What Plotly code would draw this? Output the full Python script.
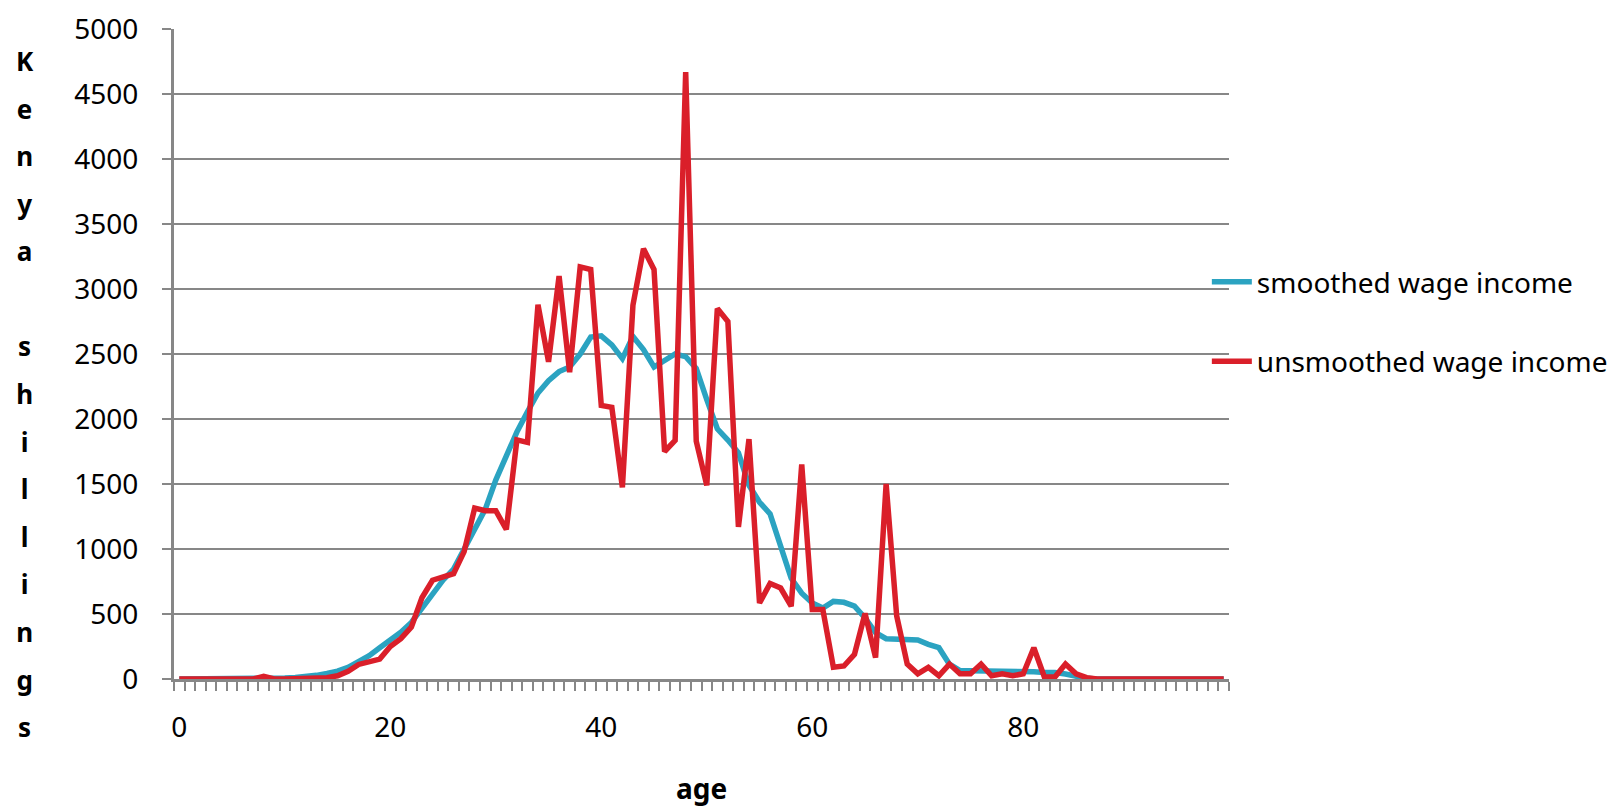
import plotly.graph_objects as go

ages = list(range(100))

smoothed = [
    0, 0, 0, 0, 0, 0, 0, 0, 0, 3,
    8, 12, 18, 28, 42, 60, 90, 130, 180, 240,
    300, 360, 435, 540, 660, 760, 845, 1000, 1135, 1305,
    1530, 1715, 1900, 2055, 2200, 2295, 2365, 2400, 2500, 2630,
    2640, 2570, 2465, 2635, 2535, 2400, 2455, 2500, 2480, 2390,
    2150, 1925, 1838, 1740, 1490, 1360, 1270, 1030, 775, 660,
    585, 546, 597, 590, 560, 470, 356, 310, 310, 310,
    300, 267, 241, 114, 64, 64, 64, 64, 64, 64,
    56, 56, 50, 50, 38, 18, 5, 0, 0, 0,
    0, 0, 0, 0, 0, 0, 0, 0, 0, 0,
]

unsmoothed = [
    0, 0, 0, 0, 0, 0, 0, 0, 20, 0,
    0, 0, 0, 5, 10, 25, 60, 112, 136, 153,
    250, 310, 400, 625, 760, 780, 810, 980, 1315, 1295,
    1295, 1150, 1840, 1820, 2880, 2440, 3100, 2360, 3170, 3150,
    2105, 2090, 1475, 2875, 3310, 3150, 1750, 1835, 4670, 1830,
    1490, 2850, 2750, 1170, 1845, 585, 735, 700, 560, 1650,
    535, 535, 90, 100, 190, 505, 165, 1500, 485, 115,
    40, 90, 25, 115, 40, 40, 115, 25, 40, 25,
    40, 240, 15, 15, 115, 40, 10, 0, 0, 0,
    0, 0, 0, 0, 0, 0, 0, 0, 0, 0,
]

x_tick_vals = [0, 20, 40, 60, 80]
x_tick_text = ["0", "20", "40", "60", "80"]
y_tick_vals = [0, 500, 1000, 1500, 2000, 2500, 3000, 3500, 4000, 4500, 5000]

series_names = ["smoothed wage income", "unsmoothed wage income"]
y_title = "Kenya shillings"
x_title = "age"

GRAY = "#878787"
FONT = "Noto Sans"

fig = go.Figure()
fig.add_trace(go.Scatter(
    x=ages, y=smoothed, mode="lines", name=series_names[0],
    line=dict(color="#2BA3C1", width=5.5), legendgroup="a",
))
fig.add_trace(go.Scatter(
    x=ages, y=unsmoothed, mode="lines", name=series_names[1],
    line=dict(color="#DA1F2A", width=5.5), legendgroup="b",
))

# stacked vertical y-axis title (one letter per line)
lines = []
for ch in y_title:
    c = ch if ch != " " else "&nbsp;"
    lines.append("<span style='font-size:26px'><b>%s</b></span>" % c)
stacked = "<br>".join(lines)

fig.update_layout(
    width=1621, height=806, autosize=False,
    margin=dict(l=166, r=400, t=21, b=135),
    paper_bgcolor="white", plot_bgcolor="white",
    font=dict(family=FONT, color="black", size=28),
    showlegend=True,
    legend=dict(
        x=0.979, xanchor="left", y=0.5498, yanchor="middle",
        font=dict(family=FONT, size=28, color="black"),
        tracegroupgap=40, itemwidth=40, bgcolor="rgba(0,0,0,0)",
    ),
    xaxis=dict(
        range=[-0.5, 99.5], tickmode="array", tickvals=x_tick_vals, ticktext=x_tick_text,
        ticks="", showgrid=False, zeroline=False,
        showline=True, linecolor=GRAY, linewidth=3,
        minor=dict(tickmode="linear", tick0=-0.5, dtick=1, ticks="outside",
                   ticklen=9, tickwidth=2, tickcolor=GRAY, showgrid=False),
        tickfont=dict(size=28, color="black", family=FONT),
        ticklabelstandoff=21,
        ticklabeloverflow="allow",
        automargin=False,
    ),
    yaxis=dict(
        range=[0, 5000.5], tickmode="array", tickvals=y_tick_vals,
        showgrid=True, gridcolor=GRAY, gridwidth=2, zeroline=False,
        showline=True, linecolor=GRAY, linewidth=3,
        ticks="outside", ticklen=9, tickwidth=2, tickcolor=GRAY,
        tickfont=dict(size=28, color="black", family=FONT),
        ticklabelstandoff=18,
        ticklabeloverflow="allow",
        automargin=False,
    ),
    annotations=[
        dict(
            text=stacked, xref="paper", yref="paper", x=-0.1412, y=0.4386,
            xanchor="center", yanchor="middle", showarrow=False,
            font=dict(family=FONT, size=36.6, color="black"),
        ),
        dict(
            text="<b>%s</b>" % x_title, xref="paper", yref="paper", x=0.5, y=-0.1677,
            xanchor="center", yanchor="middle", showarrow=False,
            font=dict(family=FONT, size=28, color="black"),
        ),
    ],
)

fig.write_html("out.html")
